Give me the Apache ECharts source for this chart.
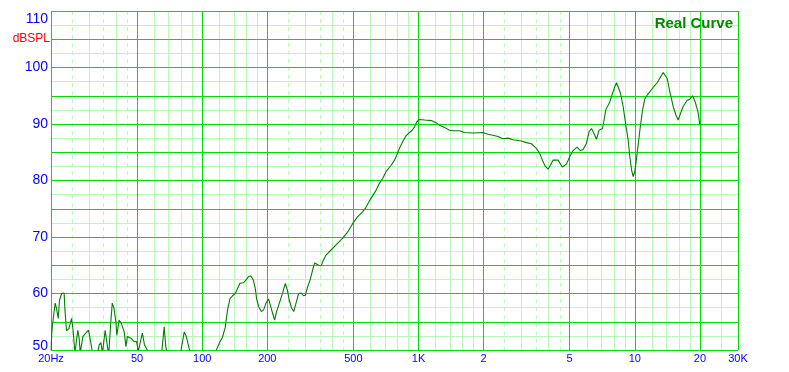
<!DOCTYPE html>
<html>
<head>
<meta charset="utf-8">
<script src="https://cdn.jsdelivr.net/npm/echarts@6/dist/echarts.min.js"></script>
<style>
html,body{margin:0;padding:0;background:#fff;}
#chart{width:789px;height:372px;}
</style>
</head>
<body>
<div id="chart"></div>
<script>
// ---- data (frequency in Hz, level in dB SPL) ----
const freqs = [
  20, 20.15, 20.4, 20.9, 21.2, 21.6, 21.9, 22.4, 23.0, 23.2, 23.6, 24.2, 24.9, 25.3, 25.8, 26.2, 26.6, 27.0, 27.3,
  28.1, 28.7, 29.8, 30.5, 31.1, 32.5, 33.4, 34.0, 34.6, 35.6, 36.5, 37.0, 37.8, 38.4, 39.1, 39.9, 40.3, 41.3, 42.3,
  43.6, 44.4, 45.1, 46.8, 48.5, 49.7, 50.7, 51.8, 52.9, 54.1, 55.2, 56.5, 60, 64, 65.1, 66.7, 67.9, 69.2, 75,
  79.7, 82.6, 84.3, 87.1, 88.5, 95, 110, 115.7, 119.9, 124.2, 127.8, 131, 134.4, 138.2, 142.2, 145.7, 149.5,
  155.4, 159.4, 163.8, 168.1, 172.3, 176, 178.4, 182.3, 187.6, 192.3, 197.2, 202.8, 206.5, 211.6, 216.2, 220.8,
  227.4, 235.4, 242.2, 247.6, 252.8, 259.2, 264.8, 271.6, 279.2, 286.4, 293.6, 300, 307.4, 315.4, 324.2, 331.2,
  338.2, 345.6, 354.6, 363.2, 373.8, 394.4, 416, 446.4, 470.8, 496.6, 523.6, 552.4, 568.4, 593.2, 637.2, 660,
  683.8, 708.8, 747.6, 774.6, 793.8, 816.8, 846.2, 871, 902.2, 935.4, 958.8, 982.4, 1011, 1067, 1145, 1208,
  1251, 1319, 1392, 1442, 1549, 1633, 1785, 1985, 2094, 2208, 2330, 2458, 2592, 2734, 2990, 3154, 3326, 3508,
  3634, 3740, 3846, 3970, 4072, 4186, 4264, 4416, 4628, 4830, 5002, 5182, 5408, 5608, 5766, 5980, 6146, 6304,
  6462, 6650, 6836, 7088, 7188, 7342, 7662, 7886, 8084, 8232, 8374, 8592, 8832, 9090, 9316, 9486, 9660, 9826,
  10006, 10254, 10554, 10862, 11134, 11404, 11738, 12158, 12688, 13058, 13526, 13774, 14114, 14526, 15048,
  15488, 15870, 16280, 16738, 17466, 17976, 18500, 19020, 19580, 20000
];
const spl = [
  49, 52.9, 55, 58.3, 57.4, 55.6, 58.8, 60.0, 60.1, 57.1, 53.4, 53.8, 55.6, 53.5, 49.5, 51.5, 53.5, 52, 49.5,
  52.4, 52.5, 53.5, 51.5, 49.5, 48.5, 50.9, 51.3, 49.5, 53.5, 50.5, 49.3, 55, 58.3, 57.4, 55, 52.6, 55.3, 54.7,
  53.2, 50.6, 52.4, 52.1, 51.5, 51.5, 49.8, 51.5, 53, 50.9, 50.3, 49.5, 48, 49, 49.8, 54.1, 50.5, 49, 47.5,
  49.8, 53.2, 52.5, 50.2, 49.5, 47, 47.5, 49.8, 51.2, 52.3, 54, 57.1, 59.1, 59.6, 60.0, 60.9, 61.8,
  61.9, 62.4, 63.0, 63.1, 62.4, 60.9, 59.1, 57.7, 56.8, 57.1, 58.3, 59.0, 58, 56.5, 55.3, 56.8,
  58.3, 60.1, 61.8, 60.6, 58.8, 57.4, 56.8, 58.3, 60.0, 60.1, 59.6, 59.7, 61.2, 62.4, 64.2, 65.4,
  65.6, 65.0, 64.9, 65.9, 66.8, 67.7, 68.6, 69.8, 70.9, 72.4, 73.6, 74.5, 75.1, 76.4, 78.3, 79.5,
  80.4, 81.6, 82.7, 83.6, 84.5, 85.7, 86.9, 87.8, 88.4, 88.9, 89.5, 90.4, 90.8, 90.7, 90.6, 90.2,
  89.8, 89.4, 88.9, 88.8, 88.8, 88.5, 88.4, 88.5, 88.2, 88.0, 87.8, 87.4, 87.5, 87.2, 87.0, 86.7, 86.5, 85.7,
  84.8, 83.6, 82.6, 82.0, 82.7, 83.6, 83.7, 83.6, 82.4, 82.9, 84.2, 85.3, 85.9, 85.3, 85.5, 86.6, 88.6, 89.2,
  88.4, 87.3, 88.9, 89.2, 90.4, 92.5, 93.9, 95.4, 96.6, 97.3, 96.6, 95.4, 93.1, 89.8, 87.2, 84.2, 81.9, 80.7,
  81.6, 84.8, 88.9, 92.5, 94.5, 95.1, 95.7, 96.5, 97.3, 98.1, 99.1, 98.8, 98.1, 95.7, 93.1,
  91.6, 90.7, 91.9, 93.1, 94.2, 94.4, 95.0, 93.9, 92.2, 89.8
];

// axis ticks / labels
const xTickFreqs = [20, 50, 100, 200, 500, 1000, 2000, 5000, 10000, 20000, 30000];
const xTickLabels = ['20Hz', '50', '100', '200', '500', '1K', '2', '5', '10', '20', '30K'];
const yTickValues = [50, 60, 70, 80, 90, 100, 110];
const yUnitValue = 105;
const yUnitLabel = 'dBSPL';
const xMin = 20, xMax = 30000, yMin = 50, yMax = 110;

// grid lines
const majorGridFreqs = [50, 100, 200, 500, 1000, 2000, 5000, 10000, 20000];
const minorGridFreqs = [30, 40, 60, 70, 80, 90, 120, 140, 160, 180, 300, 400, 600, 700, 800, 900,
  1200, 1400, 1600, 1800, 3000, 4000, 6000, 7000, 8000, 9000, 12000, 14000, 16000, 18000, 25000];
const dashedGridFreqs = [25, 35, 45, 250, 350, 450, 2500, 3500, 4500];
const majorGridDb = [55, 60, 65, 70, 75, 80, 85, 90, 95, 100, 105];
const minorGridDb = [52.5, 57.5, 62.5, 67.5, 72.5, 77.5, 82.5, 87.5, 92.5, 97.5, 102.5, 107.5];

const BRIGHT = '#00dd00';
const LIGHT = '#b8f8b8';
const CURVE = '#007f00';
const BLUE = '#0000ff';
const FONT = 'Liberation Sans, Arial, sans-serif';

const lg = Math.log10;
const curveData = freqs.map((f, i) => [lg(f), spl[i]]);

function gridX(values, color, type, z) {
  return {
    type: 'value', min: lg(xMin), max: lg(xMax), z: z,
    axisLine: { show: false },
    axisTick: { show: false, customValues: values.map(lg) },
    axisLabel: { show: false },
    splitLine: { show: true, lineStyle: { color: color, width: 1, type: type } }
  };
}
function gridY(values, color, z) {
  return {
    type: 'value', min: yMin, max: yMax, z: z,
    axisLine: { show: false },
    axisTick: { show: false, customValues: values },
    axisLabel: { show: false },
    splitLine: { show: true, lineStyle: { color: color, width: 1, type: 'solid' } }
  };
}

// frame edges drawn as crisp split lines together with the major grid
const majorXLines = [xMin].concat(majorGridFreqs, [xMax]);
const majorYLines = [yMin].concat(majorGridDb, [yMax]);

const labelX = {
  type: 'value', min: lg(xMin), max: lg(xMax), z: 4,
  axisLine: { show: false },
  axisTick: { show: false, customValues: majorXLines.map(lg) },
  splitLine: { show: true, lineStyle: { color: BRIGHT, width: 1, type: 'solid' } },
  axisLabel: {
    customValues: xTickFreqs.map(lg),
    showMinLabel: true, showMaxLabel: true,
    margin: 3, color: BLUE, fontSize: 11, fontFamily: FONT,
    formatter: function (v) {
      let best = 0, bd = Infinity;
      xTickFreqs.forEach((t, i) => { const d = Math.abs(lg(t) - v); if (d < bd) { bd = d; best = i; } });
      return bd < 0.01 ? xTickLabels[best] : '';
    }
  }
};

const labelY = {
  type: 'value', min: yMin, max: yMax, interval: 2.5, z: 3,
  axisLine: { show: false },
  axisTick: { show: false, customValues: majorYLines },
  splitLine: { show: true, lineStyle: { color: BRIGHT, width: 1, type: 'solid' } },
  axisLabel: {
    customValues: yTickValues.concat([yUnitValue]),
    showMinLabel: true, showMaxLabel: true, margin: 1, fontFamily: FONT,
    formatter: function (v) {
      if (Math.abs(v - yUnitValue) < 0.01) return '{u|' + yUnitLabel + '}';
      if (v === yMax) return '{t|' + v + '}';
      if (v === yMin) return '{b|' + v + '}';
      return '{n|' + v + '}';
    },
    rich: {
      n: { color: BLUE, fontSize: 14, padding: [0, 2, 0, 0], fontFamily: FONT },
      t: { color: BLUE, fontSize: 14, padding: [16, 2, 0, 0], fontFamily: FONT },
      b: { color: BLUE, fontSize: 14, padding: [0, 2, 7, 0], fontFamily: FONT },
      u: { color: '#ff0000', fontSize: 12, padding: [0, 0, 2, 0], fontFamily: FONT }
    }
  }
};

const chart = echarts.init(document.getElementById('chart'), null, { renderer: 'canvas' });
chart.setOption({
  animation: false,
  backgroundColor: '#ffffff',
  title: {
    text: 'Real Curve', right: 51, top: 11,
    textStyle: { color: '#008800', fontSize: 15, fontWeight: 'bold', fontFamily: FONT }
  },
  grid: { left: 51, right: 51, top: 11, bottom: 22, show: true, borderWidth: 0, backgroundColor: '#ffffff' },
  xAxis: [
    labelX,
    gridX(minorGridFreqs, LIGHT, 'solid', 1),
    gridX(dashedGridFreqs, LIGHT, [4, 4], 1)
  ],
  yAxis: [
    labelY,
    gridY(minorGridDb, LIGHT, 2)
  ],
  series: [
    {
      name: 'Real Curve', type: 'line', data: curveData, z: 5,
      xAxisIndex: 0, yAxisIndex: 0,
      showSymbol: false, symbol: 'none', smooth: false, clip: true,
      lineStyle: { color: CURVE, width: 1.1 }
    }
  ]
});
</script>
</body>
</html>
